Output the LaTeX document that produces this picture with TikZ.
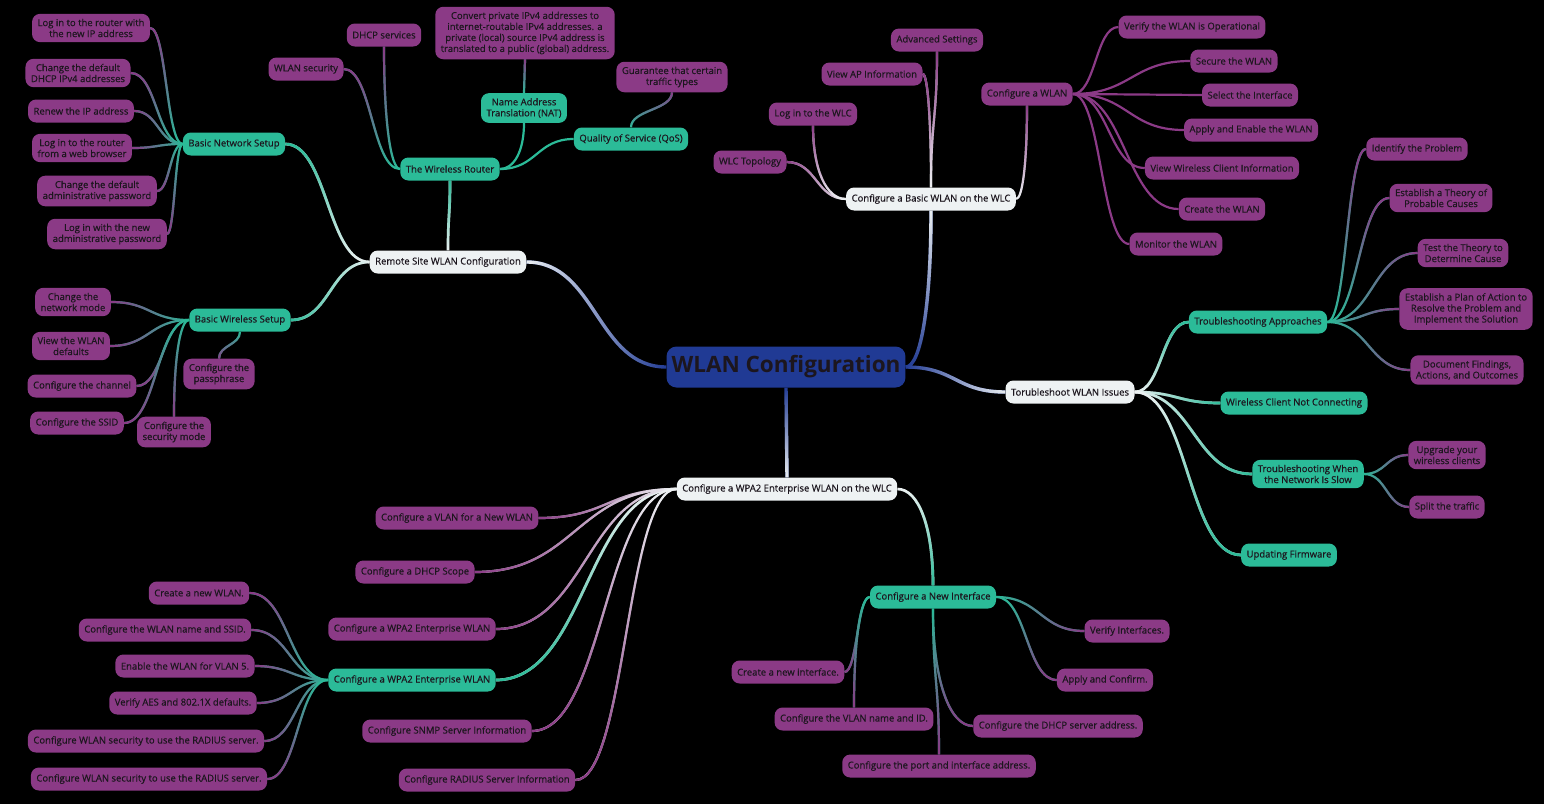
\documentclass[tikz,border=0pt]{standalone}
\usepackage{fontspec}
\setmainfont{Open Sans}
\newfontfamily\mmfont{Open Sans}[FakeBold=0.5]
\usetikzlibrary{calc,fadings,backgrounds}
\definecolor{wlnavy}{RGB}{32,58,148}
\definecolor{wlwhite}{RGB}{238,242,243}
\definecolor{wlteal}{RGB}{43,187,152}
\definecolor{wlpurple}{RGB}{139,58,134}
\definecolor{wltext}{RGB}{28,22,30}
% fadings: opaque towards the child end
\tikzfading[name=tol, left color=transparent!0, right color=transparent!100]
\tikzfading[name=tor, left color=transparent!100, right color=transparent!0]
\tikzfading[name=tou, top color=transparent!0, bottom color=transparent!100]
\tikzfading[name=tod, top color=transparent!100, bottom color=transparent!0]
% kind, from, to, parent colour, child colour, fading
\newcommand\branch[6]{%
  \draw[lnk, #4] (#2) to[#1] (#3);
  \draw[lnk, #5, path fading=#6] (#2) to[#1] (#3);}

\begin{document}
\begin{tikzpicture}[x=1pt, y=1pt,
    mmnode/.style={rectangle, rounded corners=8pt, minimum height=23pt,
                   inner xsep=5.5pt, inner ysep=5pt, align=center, text=wltext,
                   font=\mmfont\fontsize{9.5}{11}\selectfont},
    rootbox/.style={rectangle, rounded corners=10pt, fill=wlnavy, text=wltext,
                    minimum height=41pt, inner xsep=5pt,
                    font=\fontsize{22.5}{26}\selectfont\bfseries},
    topicbox/.style={mmnode, fill=wlwhite},
    subbox/.style={mmnode, fill=wlteal},
    leafbox/.style={mmnode, fill=wlpurple},
    lnk/.style={line width=2.2pt},
    hh/.style={to path={let \p1=(\tikztostart), \p2=(\tikztotarget),
               \n1={(\x2-\x1)/2}, \n2={(\x1-\x2)/2} in
               .. controls +(\n1,0) and +(\n2,0) .. (\tikztotarget)}},
    hv/.style={to path={let \p1=(\tikztostart), \p2=(\tikztotarget),
               \n1={0.6*(\x2-\x1)}, \n2={0.6*(\y1-\y2)} in
               .. controls +(\n1,0) and +(0,\n2) .. (\tikztotarget)}},
    vh/.style={to path={let \p1=(\tikztostart), \p2=(\tikztotarget),
               \n1={0.6*(\y2-\y1)}, \n2={0.6*(\x1-\x2)} in
               .. controls +(0,\n1) and +(\n2,0) .. (\tikztotarget)}},
    vv/.style={to path={let \p1=(\tikztostart), \p2=(\tikztotarget),
               \n1={(\y2-\y1)/2}, \n2={(\y1-\y2)/2} in
               .. controls +(0,\n1) and +(0,\n2) .. (\tikztotarget)}}
  ]
  \useasboundingbox (0,0) rectangle (1544,-804);

  % centre and main topics
  \node[rootbox] (root) at (786,-367) {WLAN Configuration};
  \node[topicbox] (remote) at (448,-262) {Remote Site WLAN Configuration};
  \node[topicbox] (wlc) at (931,-199) {Configure a Basic WLAN on the WLC};
  \node[topicbox] (trb) at (1070,-392) {Torubleshoot WLAN Issues};
  \node[topicbox] (wpa) at (787,-489) {Configure a WPA2 Enterprise WLAN on the WLC};

  % remote site
  \node[subbox] (bns) at (234,-144) {Basic Network Setup};
  \node[subbox] (rtr) at (450,-169) {The Wireless Router};
  \node[subbox] (bws) at (240,-320) {Basic Wireless Setup};
  \node[subbox] (nat) at (524,-108) {Name Address\\Translation (NAT)};
  \node[subbox] (qos) at (631,-139) {Quality of Service (QoS)};
  \node[leafbox] (conv) at (525,-33) {Convert private IPv4 addresses to\\internet-routable IPv4 addresses. a\\private (local) source IPv4 address is\\translated to a public (global) address.};
  \node[leafbox] (guar) at (672,-77) {Guarantee that certain\\traffic types};
  \node[leafbox] (wsec) at (306,-69) {WLAN security};
  \node[leafbox] (dhcp) at (384,-35) {DHCP services};
  \node[leafbox] (bn1) at (91,-28) {Log in to the router with\\the new IP address};
  \node[leafbox] (bn2) at (78,-73) {Change the default\\DHCP IPv4 addresses};
  \node[leafbox] (bn3) at (81,-111) {Renew the IP address};
  \node[leafbox] (bn4) at (82,-148) {Log in to the router\\from a web browser};
  \node[leafbox] (bn5) at (97,-191) {Change the default\\administrative password};
  \node[leafbox] (bn6) at (107,-234) {Log in with the new\\administrative password};
  \node[leafbox] (bw1) at (73,-302) {Change the\\network mode};
  \node[leafbox] (bw2) at (71,-346) {View the WLAN\\defaults};
  \node[leafbox] (bw3) at (82,-386) {Configure the channel};
  \node[leafbox] (bw4) at (77,-423) {Configure the SSID};
  \node[leafbox] (bw5) at (174,-432) {Configure the\\security mode};
  \node[leafbox] (bw6) at (219,-374) {Configure the\\passphrase};

  % basic WLAN on the WLC
  \node[leafbox] (wt1) at (750,-162) {WLC Topology};
  \node[leafbox] (wt2) at (813,-114) {Log in to the WLC};
  \node[leafbox] (wt3) at (872,-74) {View AP Information};
  \node[leafbox] (wt4) at (937,-40) {Advanced Settings};
  \node[leafbox] (cwl) at (1027,-94) {Configure a WLAN};
  \node[leafbox] (cw1) at (1192,-27) {Verify the WLAN is Operational};
  \node[leafbox] (cw2) at (1234,-61) {Secure the WLAN};
  \node[leafbox] (cw3) at (1250,-95) {Select the Interface};
  \node[leafbox] (cw4) at (1251,-130) {Apply and Enable the WLAN};
  \node[leafbox] (cw5) at (1222,-168) {View Wireless Client Information};
  \node[leafbox] (cw6) at (1222,-209) {Create the WLAN};
  \node[leafbox] (cw7) at (1176,-244) {Monitor the WLAN};

  % troubleshooting
  \node[subbox] (tap) at (1258,-322) {Troubleshooting Approaches};
  \node[subbox] (tcon) at (1294,-403) {Wireless Client Not Connecting};
  \node[subbox] (tslow) at (1308,-474) {Troubleshooting When\\the Network Is Slow};
  \node[subbox] (tfw) at (1289,-555) {Updating Firmware};
  \node[leafbox] (ta1) at (1417,-149) {Identify the Problem};
  \node[leafbox] (ta2) at (1441,-198) {Establish a Theory of\\Probable Causes};
  \node[leafbox] (ta3) at (1463,-253) {Test the Theory to\\Determine Cause};
  \node[leafbox] (ta4) at (1466,-309) {Establish a Plan of Action to\\Resolve the Problem and\\Implement the Solution};
  \node[leafbox] (ta5) at (1467,-370) {Document Findings,\\Actions, and Outcomes};
  \node[leafbox] (sl1) at (1447,-455) {Upgrade your\\wireless clients};
  \node[leafbox] (sl2) at (1447,-507) {Split the traffic};

  % WPA2 enterprise
  \node[leafbox] (e1) at (457,-518) {Configure a VLAN for a New WLAN};
  \node[leafbox] (e2) at (415,-572) {Configure a DHCP Scope};
  \node[leafbox] (e3) at (412,-629) {Configure a WPA2 Enterprise WLAN};
  \node[subbox] (e4) at (412,-680) {Configure a WPA2 Enterprise WLAN};
  \node[leafbox] (e5) at (447,-731) {Configure SNMP Server Information};
  \node[leafbox] (e6) at (487,-780) {Configure RADIUS Server Information};
  \node[subbox] (nif) at (933,-597) {Configure a New Interface};
  \node[leafbox] (r1) at (199,-593) {Create a new WLAN.};
  \node[leafbox] (r2) at (165,-630) {Configure the WLAN name and SSID.};
  \node[leafbox] (r3) at (185,-666) {Enable the WLAN for VLAN 5.};
  \node[leafbox] (r4) at (183,-703) {Verify AES and 802.1X defaults.};
  \node[leafbox] (r5) at (146,-741) {Configure WLAN security to use the RADIUS server.};
  \node[leafbox] (r6) at (149,-779) {Configure WLAN security to use the RADIUS server.};
  \node[leafbox] (n1) at (788,-672) {Create a new interface.};
  \node[leafbox] (n2) at (854,-719) {Configure the VLAN name and ID.};
  \node[leafbox] (n3) at (939,-766) {Configure the port and interface address.};
  \node[leafbox] (n4) at (1058,-726) {Configure the DHCP server address.};
  \node[leafbox] (n5) at (1105,-680) {Apply and Confirm.};
  \node[leafbox] (n6) at (1127,-631) {Verify Interfaces.};

  \begin{scope}[on background layer]
    \fill[black] (0,0) rectangle (1544,-804);
    % centre links
    \begin{scope}[lnk/.append style={line width=3.4pt}]
      \branch{hh}{root.west}{remote.east}{wlnavy}{wlwhite}{tol}
      \branch{hv}{root.east}{wlc.south}{wlnavy}{wlwhite}{tou}
      \branch{hh}{root.east}{trb.west}{wlnavy}{wlwhite}{tor}
      \branch{vv}{root.south}{wpa.north}{wlnavy}{wlwhite}{tod}
    \end{scope}
    \begin{scope}[lnk/.append style={line width=2.7pt}]
      \branch{hh}{remote.west}{bns.east}{wlwhite}{wlteal}{tou}
      \branch{vv}{remote.north}{rtr.south}{wlwhite}{wlteal}{tou}
      \branch{hh}{remote.west}{bws.east}{wlwhite}{wlteal}{tol}
      \branch{hh}{trb.east}{tap.west}{wlwhite}{wlteal}{tou}
      \branch{hh}{trb.east}{tcon.west}{wlwhite}{wlteal}{tor}
      \branch{hh}{trb.east}{tslow.west}{wlwhite}{wlteal}{tor}
      \branch{hh}{trb.east}{tfw.west}{wlwhite}{wlteal}{tod}
      \branch{hh}{wpa.west}{e4.east}{wlwhite}{wlteal}{tod}
      \branch{hv}{wpa.east}{nif.north}{wlwhite}{wlteal}{tod}
    \end{scope}
    % basic network setup
    \branch{hh}{bns.west}{bn1.east}{wlteal}{wlpurple}{tou}
    \branch{hh}{bns.west}{bn2.east}{wlteal}{wlpurple}{tou}
    \branch{hh}{bns.west}{bn3.east}{wlteal}{wlpurple}{tol}
    \branch{hh}{bns.west}{bn4.east}{wlteal}{wlpurple}{tol}
    \branch{hh}{bns.west}{bn5.east}{wlteal}{wlpurple}{tod}
    \branch{hh}{bns.west}{bn6.east}{wlteal}{wlpurple}{tod}
    % wireless router
    \branch{hh}{rtr.west}{wsec.east}{wlteal}{wlpurple}{tou}
    \branch{hv}{rtr.west}{dhcp.south}{wlteal}{wlpurple}{tou}
    \draw[lnk, wlteal] (rtr.east) to[hv] (nat.south);
    \draw[lnk, wlteal] (rtr.east) to[hh] (qos.west);
    \branch{vv}{nat.north}{conv.south}{wlteal}{wlpurple}{tou}
    \branch{vv}{qos.north}{guar.south}{wlteal}{wlpurple}{tou}
    % basic wireless setup
    \branch{hh}{bws.west}{bw1.east}{wlteal}{wlpurple}{tol}
    \branch{hh}{bws.west}{bw2.east}{wlteal}{wlpurple}{tol}
    \branch{hh}{bws.west}{bw3.east}{wlteal}{wlpurple}{tod}
    \branch{hh}{bws.west}{bw4.east}{wlteal}{wlpurple}{tod}
    \branch{hv}{bws.west}{bw5.north}{wlteal}{wlpurple}{tod}
    \branch{vv}{bws.south}{bw6.north}{wlteal}{wlpurple}{tod}
    % basic WLAN on the WLC
    \branch{hh}{wlc.west}{wt1.east}{wlwhite}{wlpurple}{tol}
    \branch{hv}{wlc.west}{wt2.south}{wlwhite}{wlpurple}{tou}
    \branch{vh}{wlc.north}{wt3.east}{wlwhite}{wlpurple}{tou}
    \branch{vv}{wlc.north}{wt4.south}{wlwhite}{wlpurple}{tou}
    \branch{hv}{wlc.east}{cwl.south}{wlwhite}{wlpurple}{tou}
    \draw[lnk, wlpurple] (cwl.east) to[hh] (cw1.west);
    \draw[lnk, wlpurple] (cwl.east) to[hh] (cw2.west);
    \draw[lnk, wlpurple] (cwl.east) to[hh] (cw3.west);
    \draw[lnk, wlpurple] (cwl.east) to[hh] (cw4.west);
    \draw[lnk, wlpurple] (cwl.east) to[hh] (cw5.west);
    \draw[lnk, wlpurple] (cwl.east) to[hh] (cw6.west);
    \draw[lnk, wlpurple] (cwl.east) to[hh] (cw7.west);
    % troubleshooting
    \branch{hh}{tap.east}{ta1.west}{wlteal}{wlpurple}{tou}
    \branch{hh}{tap.east}{ta2.west}{wlteal}{wlpurple}{tou}
    \branch{hh}{tap.east}{ta3.west}{wlteal}{wlpurple}{tor}
    \branch{hh}{tap.east}{ta4.west}{wlteal}{wlpurple}{tor}
    \branch{hh}{tap.east}{ta5.west}{wlteal}{wlpurple}{tor}
    \branch{hh}{tslow.east}{sl1.west}{wlteal}{wlpurple}{tor}
    \branch{hh}{tslow.east}{sl2.west}{wlteal}{wlpurple}{tor}
    % WPA2 enterprise
    \branch{hh}{wpa.west}{e1.east}{wlwhite}{wlpurple}{tol}
    \branch{hh}{wpa.west}{e2.east}{wlwhite}{wlpurple}{tol}
    \branch{hh}{wpa.west}{e3.east}{wlwhite}{wlpurple}{tol}
    \branch{hh}{wpa.west}{e5.east}{wlwhite}{wlpurple}{tod}
    \branch{hh}{wpa.west}{e6.east}{wlwhite}{wlpurple}{tod}
    \branch{hh}{e4.west}{r1.east}{wlteal}{wlpurple}{tou}
    \branch{hh}{e4.west}{r2.east}{wlteal}{wlpurple}{tol}
    \branch{hh}{e4.west}{r3.east}{wlteal}{wlpurple}{tol}
    \branch{hh}{e4.west}{r4.east}{wlteal}{wlpurple}{tol}
    \branch{hh}{e4.west}{r5.east}{wlteal}{wlpurple}{tol}
    \branch{hh}{e4.west}{r6.east}{wlteal}{wlpurple}{tod}
    \branch{hh}{nif.west}{n1.east}{wlteal}{wlpurple}{tod}
    \branch{hv}{nif.west}{n2.north}{wlteal}{wlpurple}{tod}
    \branch{vv}{nif.south}{n3.north}{wlteal}{wlpurple}{tod}
    \branch{vh}{nif.south}{n4.west}{wlteal}{wlpurple}{tod}
    \branch{hh}{nif.east}{n5.west}{wlteal}{wlpurple}{tod}
    \branch{hh}{nif.east}{n6.west}{wlteal}{wlpurple}{tor}
  \end{scope}
\end{tikzpicture}
\end{document}
